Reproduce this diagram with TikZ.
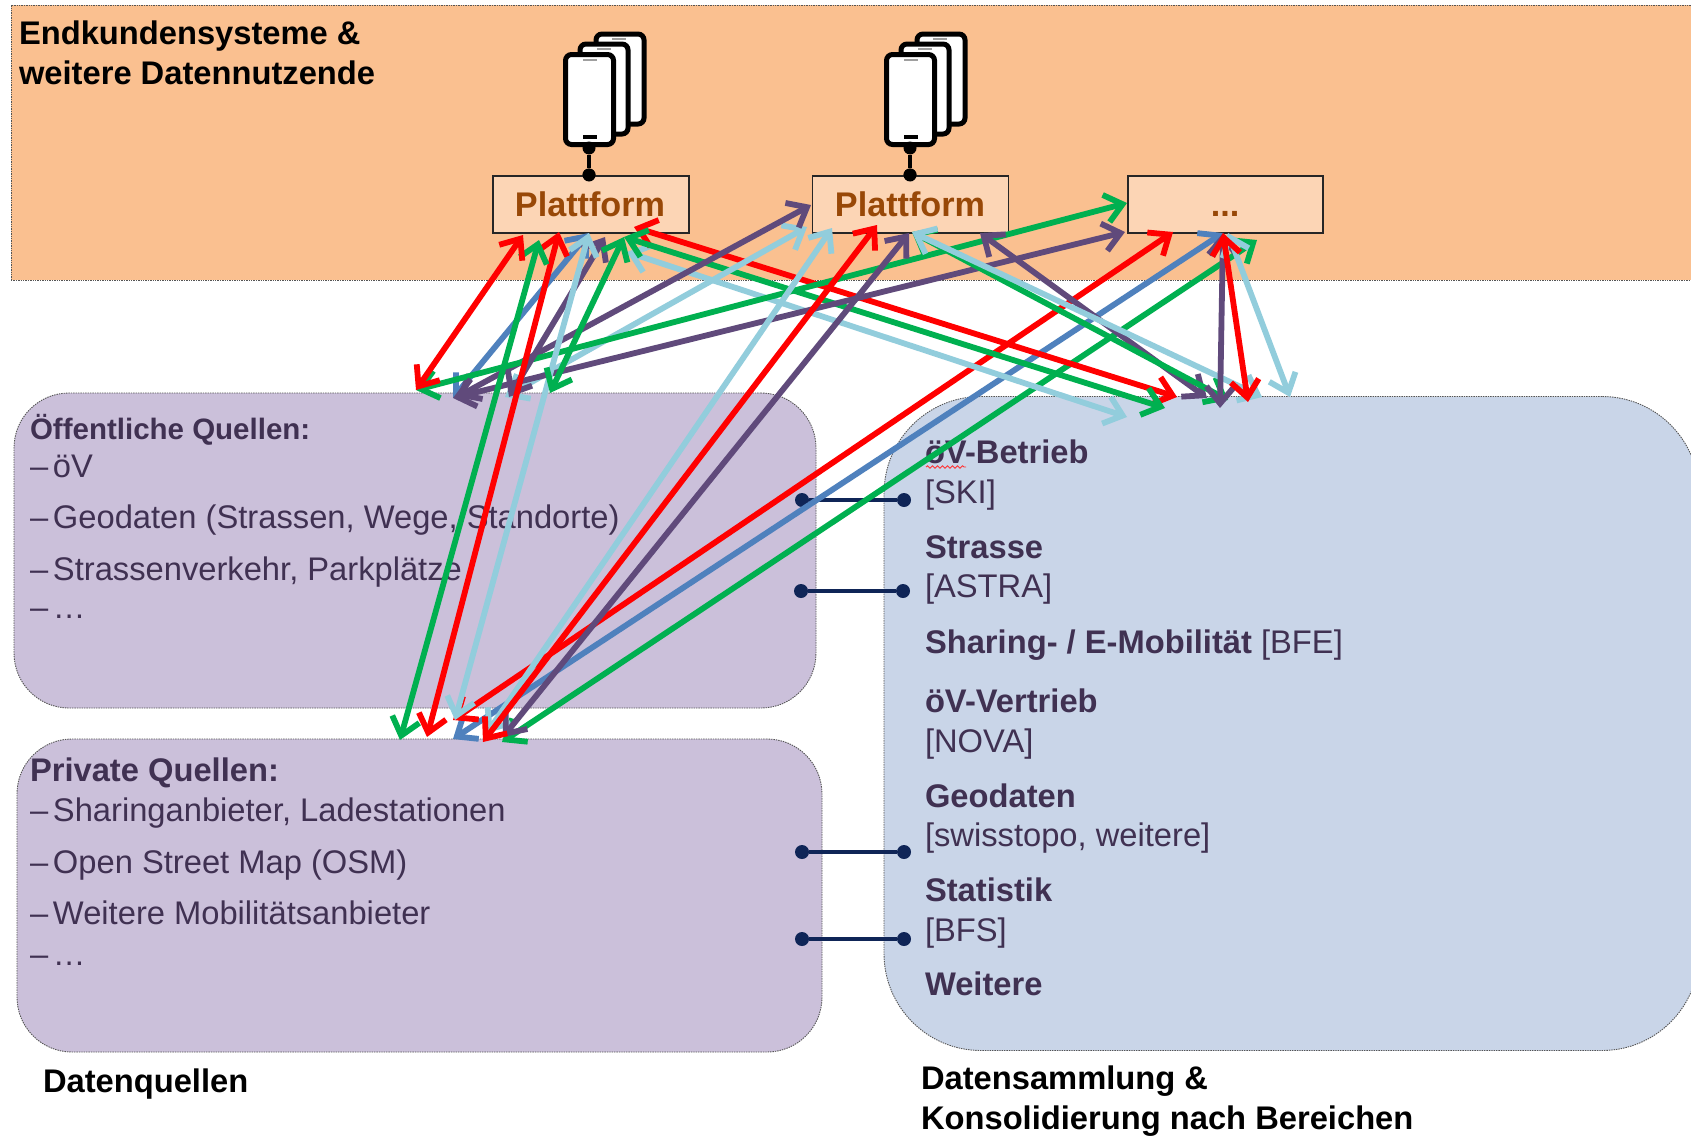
\documentclass[tikz,border=0pt]{standalone}
\usepackage{fontspec}
\setmainfont{Liberation Sans}
\usetikzlibrary{arrows.meta,decorations.pathmorphing}
\definecolor{rd}{HTML}{FF0000}
\definecolor{gn}{HTML}{00B050}
\definecolor{pu}{HTML}{604A7B}
\definecolor{bl}{HTML}{4F81BD}
\definecolor{lb}{HTML}{92CDDC}
\definecolor{bandfill}{HTML}{FAC090}
\definecolor{platfill}{HTML}{FCD5B5}
\definecolor{plattext}{HTML}{984807}
\definecolor{srcfill}{HTML}{CBC0DA}
\definecolor{sumfill}{HTML}{C9D5E8}
\definecolor{ink}{HTML}{403152}
\definecolor{navy}{HTML}{0F2557}
\definecolor{edge}{HTML}{555555}
\newcommand{\fs}[1]{\fontsize{#1}{#1}\selectfont}
\newcommand{\dashitem}[1]{\makebox[23pt][l]{–}#1}
\tikzset{
  x=1pt,y=-1pt,
  area/.style={draw=edge,line width=0.9pt,dash pattern=on 1.4pt off 1pt,inner sep=0,outer sep=0},
  platbox/.style={draw=black!85,line width=1.3pt,fill=platfill,minimum width=196pt,minimum height=57pt,inner sep=0,outer sep=0},
  lab/.style={anchor=base west,inner sep=0,outer sep=0,text=ink,font=\fs{32.7}},
  boldlab/.style={lab,font=\fs{32.7}\bfseries},
  head/.style={lab,text=black,font=\fs{32.7}\bfseries},
  plat/.style={anchor=base,inner sep=0,outer sep=0,text=plattext,font=\fs{34.2}\bfseries},
  lnk/.style={line width=5.8pt,{Straight Barb[length=17pt,width=28pt,line width=5.8pt]}-{Straight Barb[length=17pt,width=28pt,line width=5.8pt]}},
  blackdot/.style={circle,fill=black,inner sep=0,minimum size=13pt},
  navydot/.style={circle,fill=navy,inner sep=0,minimum size=14pt},
  phone/.style={draw=black,fill=white,line width=5pt,rounded corners=6pt,inner sep=0,outer sep=0,minimum width=48pt,minimum height=90pt},
  speaker/.style={line width=2.4pt,draw=gray!75},
}
\begin{document}
\begin{tikzpicture}
\useasboundingbox (0,0) rectangle (1691,1135);
\fill[white] (0,0) rectangle (1691,1135);

% regions
\node[area,fill=bandfill,minimum width=1690pt,minimum height=275pt] (band) at (856,142.5) {};
\node[area,fill=srcfill,rounded corners=55pt,minimum width=802pt,minimum height=315pt] (oeff) at (415,550.5) {};
\node[area,fill=srcfill,rounded corners=55pt,minimum width=805pt,minimum height=313pt] (priv) at (419.5,895.5) {};
\node[area,fill=sumfill,rounded corners=97pt,minimum width=815pt,minimum height=654pt] (sum) at (1291.5,723.5) {};

% phones and platforms
\foreach \n/\dx in {1/0,2/321}{
  \begin{scope}[shift={(\dx,0)}]
    \node[phone] (back\n) at (620,79) {};
    \draw[speaker] (612,39) -- (626,39);
    \node[phone] (mid\n) at (604,89) {};
    \draw[speaker] (597,49) -- (611,49);
    \node[phone] (front\n) at (589.5,99.5) {};
    \draw[speaker] (583,60) -- (597,60);
    \draw[line width=3.5pt] (583,137) -- (597,137);
    \node[blackdot] (ptop\n) at (589,148) {};
    \node[blackdot] (pbot\n) at (589,175) {};
    \draw[line width=4pt] (ptop\n) -- (pbot\n);
  \end{scope}
}
\node[platbox] (plat1) at (591,204.5) {};
\node[platbox] (plat2) at (910.5,204.5) {};
\node[platbox,minimum width=195pt] (plat3) at (1225.5,204.5) {};
\node[blackdot] (pdot1) at (589,175) {};
\node[blackdot] (pdot2) at (910,175) {};
\node[plat] (platt1) at (590,216) {Plattform};
\node[plat] (platt2) at (910,216) {Plattform};
\node[plat] (platt3) at (1225,216) {...};

% texts
\node[head] (h1) at (19,44) {Endkundensysteme \&};
\node[head] (h2) at (19,84) {weitere Datennutzende};

\node[boldlab,font=\fs{29.5}\bfseries] (o0) at (30,439) {Öffentliche Quellen:};
\node[lab] (o1t) at (30,477) {\dashitem{öV}};
\node[lab] (o2t) at (30,528) {\dashitem{Geodaten (Strassen, Wege, Standorte)}};
\node[lab] (o3t) at (30,580) {\dashitem{Strassenverkehr, Parkplätze}};
\node[lab] (o4t) at (30,618) {\dashitem{…}};

\node[boldlab] (q0) at (30,781) {Private Quellen:};
\node[lab] (q1t) at (30,821) {\dashitem{Sharinganbieter, Ladestationen}};
\node[lab] (q2t) at (30,873) {\dashitem{Open Street Map (OSM)}};
\node[lab] (q3t) at (30,924) {\dashitem{Weitere Mobilitätsanbieter}};
\node[lab] (q4t) at (30,965) {\dashitem{…}};

\node[boldlab] (s1) at (925,463) {öV-Betrieb};
\node[lab] (s2) at (925,503) {[SKI]};
\node[boldlab] (s3) at (925,558) {Strasse};
\node[lab] (s4) at (925,597) {[ASTRA]};
\node[lab] (s5) at (925,653) {\textbf{Sharing- / E-Mobilität} [BFE]};
\node[boldlab] (s6) at (925,712) {öV-Vertrieb};
\node[lab] (s7) at (925,752) {[NOVA]};
\node[boldlab] (s8) at (925,807) {Geodaten};
\node[lab] (s9) at (925,846) {[swisstopo, weitere]};
\node[boldlab] (s10) at (925,901) {Statistik};
\node[lab] (s11) at (925,941) {[BFS]};
\node[boldlab] (s12) at (925,995) {Weitere};
\coordinate (sqa) at (926,467);
\coordinate (sqb) at (966,467);
\draw[rd!80,line width=0.9pt,decorate,decoration={snake,amplitude=1.2pt,segment length=5pt}] (sqa) -- (sqb);

\node[head] (f1) at (43,1092) {Datenquellen};
\node[head] (f2) at (921,1089) {Datensammlung \&};
\node[head] (f3) at (921,1129) {Konsolidierung nach Bereichen};

% link dots
\node[navydot] (a1) at (802,500) {};
\node[navydot] (b1) at (904,500) {};
\node[navydot] (a2) at (801,591) {};
\node[navydot] (b2) at (903,591) {};
\node[navydot] (a3) at (802,852) {};
\node[navydot] (b3) at (904,852) {};
\node[navydot] (a4) at (802,939) {};
\node[navydot] (b4) at (904,939) {};
\foreach \i in {1,2,3,4}{\draw[navy,line width=3.4pt] (a\i) -- (b\i);}

% ports
\coordinate (p1a) at (523,235);
\coordinate (p1b) at (559,232);
\coordinate (p1c) at (539,240);
\coordinate (p1d) at (589,233);
\coordinate (p1e) at (605,237);
\coordinate (p1f) at (624,237);
\coordinate (p1g) at (634,227);
\coordinate (p1h) at (627,252);
\coordinate (p2a) at (811,205);
\coordinate (p2b) at (807,227);
\coordinate (p2c) at (832,228);
\coordinate (p2d) at (877,225);
\coordinate (p2e) at (909,233);
\coordinate (p2f) at (912,232);
\coordinate (p2g) at (980,233);
\coordinate (p3a) at (1127,203);
\coordinate (p3b) at (1125,232);
\coordinate (p3c) at (1173,232);
\coordinate (p3d) at (1223,233);
\coordinate (p3e) at (1257,240);
\coordinate (p3f) at (1228,233);
\coordinate (o1) at (416,390);
\coordinate (o2) at (453,398);
\coordinate (o3) at (457,397);
\coordinate (o4) at (509,397);
\coordinate (o5) at (505,397);
\coordinate (o6) at (550,393);
\coordinate (q1) at (400,740);
\coordinate (q2) at (427,737);
\coordinate (q3) at (455,720);
\coordinate (q4) at (453,720);
\coordinate (q5) at (453,739);
\coordinate (q6) at (483,742);
\coordinate (q7) at (487,733);
\coordinate (q8) at (503,737);
\coordinate (q9) at (502,742);
\coordinate (d1) at (1127,417);
\coordinate (d2) at (1165,408);
\coordinate (d3) at (1177,397);
\coordinate (d4) at (1207,398);
\coordinate (d5) at (1228,400);
\coordinate (d6) at (1220,408);
\coordinate (d7) at (1248,402);
\coordinate (d8) at (1262,397);
\coordinate (d9) at (1290,397);

% connectors
\draw[lnk,bl] (p1d) -- (o2);
\draw[lnk,bl] (p3d) -- (q5);
\draw[lnk,gn] (p3e) -- (q9);
\draw[lnk,rd] (p3c) -- (q4);
\draw[lnk,lb] (p1h) -- (d1);
\draw[lnk,rd] (p1g) -- (d3);
\draw[lnk,gn] (p1f) -- (d2);
\draw[lnk,lb] (p2b) -- (o5);
\draw[lnk,pu] (p2a) -- (o3);
\draw[lnk,gn] (p3a) -- (o1);
\draw[lnk,pu] (p3b) -- (o2);
\draw[lnk,pu] (p1e) -- (o4);
\draw[lnk,lb] (p1d) -- (q3);
\draw[lnk,gn] (p1f) -- (o6);
\draw[lnk,rd] (p1b) -- (q2);
\draw[lnk,gn] (p1c) -- (q1);
\draw[lnk,rd] (p1a) -- (o1);
\draw[lnk,lb] (p2c) -- (q7);
\draw[lnk,pu] (p2e) -- (q8);
\draw[lnk,rd] (p2d) -- (q6);
\draw[lnk,pu] (p2g) -- (d4);
\draw[lnk,gn] (p2f) -- (d5);
\draw[lnk,lb] (p2f) -- (d8);
\draw[lnk,pu] (p3d) -- (d6);
\draw[lnk,lb] (p3f) -- (d9);
\draw[lnk,rd] (p3d) -- (d7);
\end{tikzpicture}
\end{document}
